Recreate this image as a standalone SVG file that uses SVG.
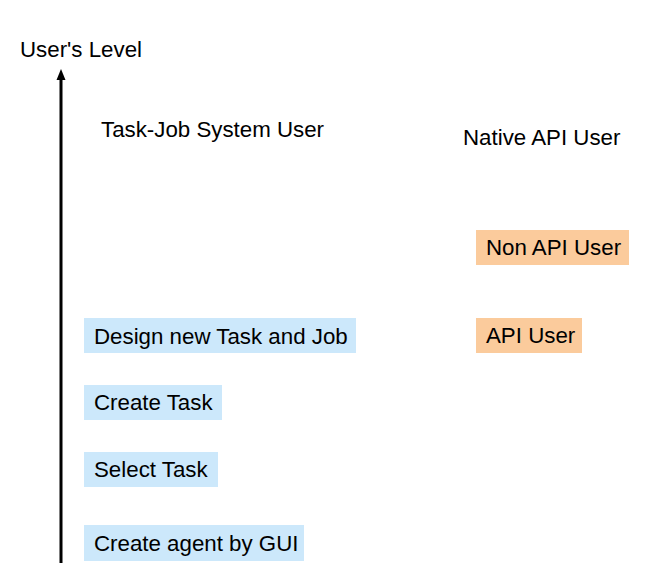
<svg xmlns="http://www.w3.org/2000/svg" width="659" height="582" viewBox="0 0 659 582">
<style>
text{font-family:"Liberation Sans",Arial,sans-serif;font-size:22.3px;fill:#000}
.b{fill:#cce8fb}
.o{fill:#fbcb9c}
</style>
<defs>
<marker id="ah" markerWidth="11" markerHeight="10" refX="4" refY="5" orient="auto" markerUnits="userSpaceOnUse">
<path d="M0,0.5 L11,5 L0,9.5 z" fill="#000"/>
</marker>
</defs>
<rect width="659" height="582" fill="#fff"/>
<g id="connectors">
<line x1="61" y1="563" x2="61" y2="76" stroke="#000" stroke-width="3" marker-end="url(#ah)"/>
</g>
<g id="axis-label"><text x="20" y="57">User's Level</text></g>
<g id="task-job-user"><text x="101" y="137">Task-Job System User</text></g>
<g id="native-api-user"><text x="463" y="145">Native API User</text></g>
<g id="non-api-user"><rect class="o" x="476" y="230" width="153" height="35"/><text x="486" y="255">Non API User</text></g>
<g id="api-user"><rect class="o" x="476" y="318" width="106" height="35"/><text x="486" y="343">API User</text></g>
<g id="design-task-job"><rect class="b" x="84" y="318" width="272" height="35"/><text x="94" y="344">Design new Task and Job</text></g>
<g id="create-task"><rect class="b" x="84" y="385" width="138" height="35"/><text x="94" y="410">Create Task</text></g>
<g id="select-task"><rect class="b" x="84" y="452" width="134" height="35"/><text x="94" y="477">Select Task</text></g>
<g id="create-agent"><rect class="b" x="84" y="525" width="220" height="36"/><text x="94" y="551">Create agent by GUI</text></g>
</svg>
